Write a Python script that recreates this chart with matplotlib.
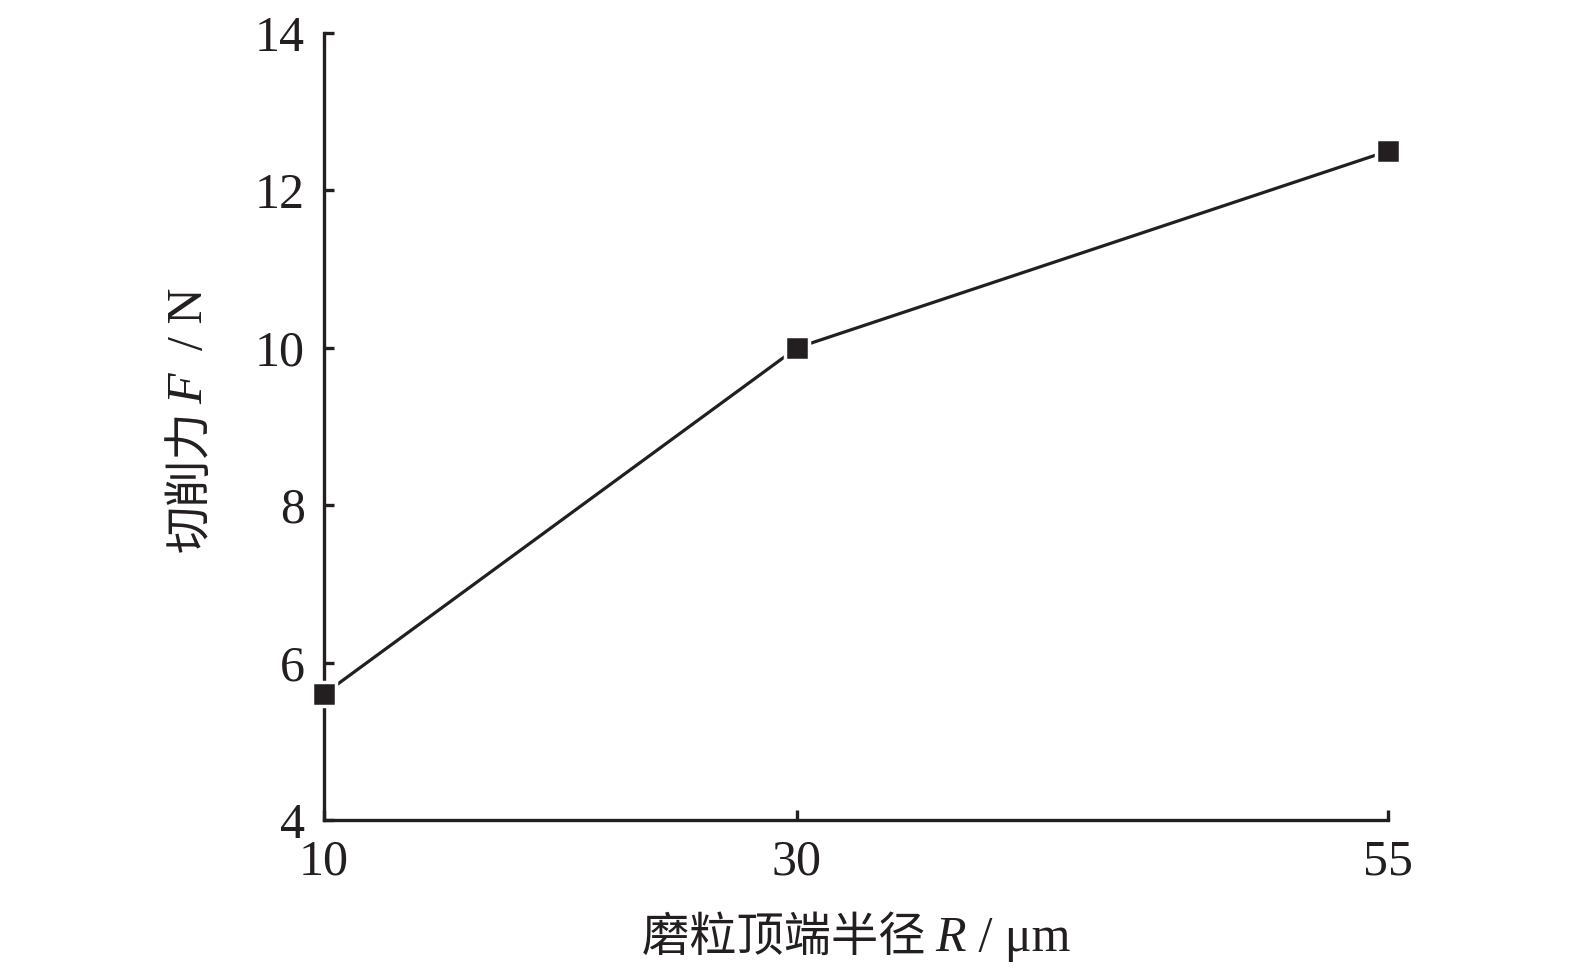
import matplotlib
matplotlib.use('Agg')
import matplotlib.pyplot as plt
from matplotlib.offsetbox import TextArea, HPacker, VPacker, AnnotationBbox

# data
radius = [10, 30, 55]
force = [5.6, 10.0, 12.5]
x_ticks = [10, 30, 55]
y_ticks = [4, 6, 8, 10, 12, 14]

INK = '#231f20'
SERIF = 'Liberation Serif'
CJK = 'Noto Sans CJK SC'

plt.rcParams['font.family'] = [SERIF, CJK]

fig = plt.figure(figsize=(15.75, 9.76), dpi=100)
ax = fig.add_axes([324 / 1575, 1 - 820 / 976, (1388 - 324) / 1575, (820 - 33) / 976])

ax.plot(radius, force, color=INK, lw=2.3, zorder=2, clip_on=False)
ax.plot(radius, force, ls='none', marker='s', ms=17, mfc=INK, mec='white', mew=2.5,
        zorder=3, clip_on=False)

ax.set_xlim(10, 55)
ax.set_ylim(4, 14)
ax.set_xticks(x_ticks)
ax.set_yticks(y_ticks)
ax.tick_params(direction='in', length=7, width=2.4, colors=INK, labelsize=36, pad=14)
for lab in ax.get_xticklabels() + ax.get_yticklabels():
    lab.set_family(SERIF)

ax.spines['top'].set_visible(False)
ax.spines['right'].set_visible(False)
for side in ['bottom', 'left']:
    ax.spines[side].set_linewidth(2.4)
    ax.spines[side].set_color(INK)

# x label: CJK + italic R + unit
lab_size = 34
xl = HPacker(children=[
    TextArea('磨粒顶端半径 ', textprops=dict(family=CJK, size=lab_size, color=INK)),
    TextArea('R', textprops=dict(family=SERIF, style='italic', size=lab_size + 2, color=INK)),
    TextArea(' / μm', textprops=dict(family=SERIF, size=lab_size + 2, color=INK)),
], align='baseline', pad=0, sep=0)
fig.add_artist(AnnotationBbox(xl, (856 / 1575, 1 - 938 / 976), xycoords='figure fraction',
                              frameon=False, box_alignment=(0.5, 0.5)))

# y label, rotated pieces stacked bottom to top
yl = VPacker(children=[
    TextArea('/ N', textprops=dict(family=SERIF, size=lab_size + 2, color=INK, rotation=90)),
    TextArea('F', textprops=dict(family=SERIF, style='italic', size=lab_size + 2, color=INK, rotation=90)),
    TextArea('切削力', textprops=dict(family=CJK, size=lab_size, color=INK, rotation=90)),
], align='center', pad=0, sep=5)
fig.add_artist(AnnotationBbox(yl, (190 / 1575, 1 - 420 / 976), xycoords='figure fraction',
                              frameon=False, box_alignment=(0.5, 0.5)))

fig.savefig('out.png', dpi=100, facecolor='white')
